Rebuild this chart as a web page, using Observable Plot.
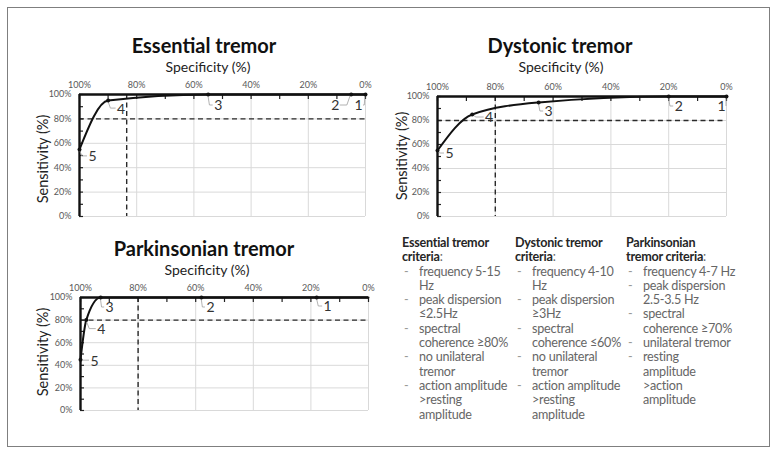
<!DOCTYPE html>
<html>
<head>
<meta charset="utf-8">
<script src="https://cdn.jsdelivr.net/npm/d3@7"></script>
<script src="https://cdn.jsdelivr.net/npm/@observablehq/plot@0.6"></script>
<style>
  body { margin: 0; background: #fff; }
  #root { position: relative; width: 778px; height: 456px; overflow: hidden; font-family: Lato, "Open Sans", sans-serif; }
  #frame { position: absolute; left: 7px; top: 7px; width: 761px; height: 438px; border: 1.5px solid #7f7f7f; }
  .abs { position: absolute; white-space: nowrap; }
  .title { font-weight: 700; font-size: 20px; color: #111; transform: translate(-50%, -50%); }
  .xlab { font-size: 14px; color: #222; transform: translate(-50%, -50%); }
  .ylab { font-size: 14.5px; color: #222; transform: translate(-50%, -50%) rotate(-90deg); }
  .crit { position: absolute; top: 236px; font-size: 12.6px; line-height: 14.3px; color: #666; letter-spacing: -0.25px; }
  .crit .h { color: #262626; font-weight: 700; }
  .crit .row { position: relative; padding-left: 17px; }
  .crit .row .d { position: absolute; left: 2px; color: #999; }
</style>
</head>
<body>
<div id="root">
  <div id="frame"></div>
</div>
<script>
// ---------- data ----------
const pointLabels = ["1", "2", "3", "4", "5"];

const etSpecificity = [0, 5, 55, 90, 100];
const etSensitivity = [100, 100, 100, 95, 55];

const dtSpecificity = [0, 20, 65, 88, 100];
const dtSensitivity = [100, 100, 95, 85, 55];

const ptSpecificity = [18, 58, 93, 98, 100];
const ptSensitivity = [100, 100, 100, 80, 45];
const ptCurveSpecificity = [0, 18, 58, 93, 98, 100];
const ptCurveSensitivity = [100, 100, 100, 100, 80, 45];

const cutoffSpecificity = [83.5, 80, 80];
const cutoffSensitivity = [80, 80, 80];

const axisTicks = [0, 20, 40, 60, 80, 100];
const minorTicks = [0, 10, 20, 30, 40, 50, 60, 70, 80, 90, 100];

const titles = ["Essential tremor", "Dystonic tremor", "Parkinsonian tremor"];
const xAxisLabel = "Specificity (%)";
const yAxisLabel = "Sensitivity (%)";

const criteriaHeads = [
  ["Essential tremor", "criteria"],
  ["Dystonic tremor", "criteria"],
  ["Parkinsonian", "tremor criteria"]
];
const criteriaItems = [
  [["frequency 5-15", "Hz"], ["peak dispersion", "≤2.5Hz"], ["spectral", "coherence ≥80%"], ["no unilateral", "tremor"], ["action amplitude", ">resting", "amplitude"]],
  [["frequency 4-10", "Hz"], ["peak dispersion", "≥3Hz"], ["spectral", "coherence ≤60%"], ["no unilateral", "tremor"], ["action amplitude", ">resting", "amplitude"]],
  [["frequency 4-7 Hz"], ["peak dispersion", "2.5-3.5 Hz"], ["spectral", "coherence ≥70%"], ["unilateral tremor"], ["resting", "amplitude", ">action", "amplitude"]]
];

// ---------- drawing ----------
const root = document.getElementById("root");

function addText(cls, text, x, y) {
  const d = document.createElement("div");
  d.className = "abs " + cls;
  d.textContent = text;
  d.style.left = x + "px";
  d.style.top = y + "px";
  root.appendChild(d);
}

function leaderMark(xs, ys, offsets) {
  return (index, scales) => {
    const g = d3.create("svg:g").attr("fill", "none").attr("stroke", "#a0a0a0").attr("stroke-width", 0.8);
    xs.forEach((x, i) => {
      const px = scales.x(x), py = scales.y(ys[i]);
      const [dx, dy] = offsets[i];
      const s = Math.sign(dx);
      const ex = px + dx - 5 * s;
      const mx = px + (dx - 5 * s) * 0.35;
      g.append("path").attr("d", `M${px},${py}L${mx},${py + dy}L${ex},${py + dy}`);
    });
    return g.node();
  };
}

function panel({spec, sens, curveSpec, curveSens, cutX, cutY, offsets, left, top, width, height, ml, mr, mt, mb}) {
  const pts = spec.map((s, i) => ({s, v: sens[i], label: pointLabels[i]}));
  const curve = curveSpec.map((s, i) => ({s, v: curveSens[i]})).sort((a, b) => b.s - a.s);
  const chart = Plot.plot({
    width, height,
    marginLeft: ml, marginRight: mr, marginTop: mt, marginBottom: mb,
    style: {fontFamily: "Lato, 'Open Sans', sans-serif", fontSize: "9px", color: "#595959", background: "transparent", overflow: "visible"},
    x: {domain: [100, 0], label: null},
    y: {domain: [0, 100], label: null},
    marks: [
      Plot.gridX(axisTicks.filter(t => t < 100), {stroke: "#d9d9d9", strokeOpacity: 1, strokeWidth: 1}),
      Plot.gridY(axisTicks.filter(t => t < 100), {stroke: "#d9d9d9", strokeOpacity: 1, strokeWidth: 1}),
      Plot.ruleX([cutX], {stroke: "#2a2a2a", strokeWidth: 1.4, strokeDasharray: "5,3.5"}),
      Plot.ruleY([cutY], {stroke: "#2a2a2a", strokeWidth: 1.4, strokeDasharray: "5,3.5"}),
      Plot.axisX({anchor: "top", ticks: axisTicks, tickFormat: d => d + "%", tickSize: 0, tickPadding: 7, fill: "#595959", fontSize: 9, label: null}),
      Plot.axisY({anchor: "left", ticks: axisTicks, tickFormat: d => d + "%", tickSize: 0, tickPadding: 8, fill: "#595959", fontSize: 9, label: null}),
      Plot.axisX({anchor: "top", ticks: minorTicks, tickSize: -4, tickFormat: () => "", stroke: "#222", strokeWidth: 1.2, label: null}),
      Plot.axisY({anchor: "left", ticks: minorTicks, tickSize: -4, tickFormat: () => "", stroke: "#222", strokeWidth: 1.2, label: null}),
      Plot.ruleX([100], {stroke: "#111", strokeWidth: 2.4}),
      Plot.ruleY([100], {stroke: "#111", strokeWidth: 2.4}),
      Plot.line(curve, {x: "s", y: "v", curve: "monotone-x", stroke: "#111", strokeWidth: 2}),
      leaderMark(spec, sens, offsets),
      Plot.dot(pts, {x: "s", y: "v", r: 2, fill: "#111"}),
      ...pts.map((p, i) => Plot.text([p], {x: "s", y: "v", text: "label", fontSize: 14, fill: "#333",
        dx: offsets[i][0], dy: offsets[i][1] + 0.5}))
    ]
  });
  chart.style.position = "absolute";
  chart.style.left = left + "px";
  chart.style.top = top + "px";
  root.appendChild(chart);
  return chart;
}

// label offsets (pixels) for each panel, in point order 1..5
const etOffsets = [[-7, 11], [-16, 11], [10, 11], [13, 8], [13, 7]];
const dtOffsets = [[-5, 10], [10, 10], [10, 9], [17, 3], [12, 3]];
const ptOffsets = [[11, 9], [9, 10], [9, 10], [15, 9], [14, 1]];

panel({spec: etSpecificity, sens: etSensitivity, curveSpec: etSpecificity, curveSens: etSensitivity,
  cutX: cutoffSpecificity[0], cutY: cutoffSensitivity[0], offsets: etOffsets,
  left: 0, top: 0, width: 390, height: 225, ml: 79, mr: 25, mt: 94, mb: 9});

panel({spec: dtSpecificity, sens: dtSensitivity, curveSpec: dtSpecificity, curveSens: dtSensitivity,
  cutX: cutoffSpecificity[1], cutY: cutoffSensitivity[1], offsets: dtOffsets,
  left: 360, top: 0, width: 390, height: 225, ml: 77, mr: 24, mt: 96, mb: 9});

panel({spec: ptSpecificity, sens: ptSensitivity, curveSpec: ptCurveSpecificity, curveSens: ptCurveSensitivity,
  cutX: cutoffSpecificity[2], cutY: cutoffSensitivity[2], offsets: ptOffsets,
  left: 0, top: 200, width: 390, height: 220, ml: 80, mr: 22, mt: 97, mb: 10});

addText("title", titles[0], 204, 45);
addText("title", titles[1], 560, 45);
addText("title", titles[2], 204, 248);
addText("xlab", xAxisLabel, 208, 66);
addText("xlab", xAxisLabel, 561, 66);
addText("xlab", xAxisLabel, 207, 269);
addText("ylab", yAxisLabel, 42, 159);
addText("ylab", yAxisLabel, 401, 156);
addText("ylab", yAxisLabel, 42, 352);

const colLefts = [402, 515, 626];
const esc = s => s.replace(/&/g, "&amp;").replace(/</g, "&lt;").replace(/>/g, "&gt;");
criteriaHeads.forEach((head, c) => {
  const col = document.createElement("div");
  col.className = "crit";
  col.style.left = colLefts[c] + "px";
  let html = `<div class="h">${head[0]}</div><div><span class="h">${head[1]}</span>:</div>`;
  criteriaItems[c].forEach(lines => {
    html += `<div class="row"><span class="d">-</span>${lines.map(esc).join("<br>")}</div>`;
  });
  col.innerHTML = html;
  root.appendChild(col);
});
</script>
</body>
</html>
